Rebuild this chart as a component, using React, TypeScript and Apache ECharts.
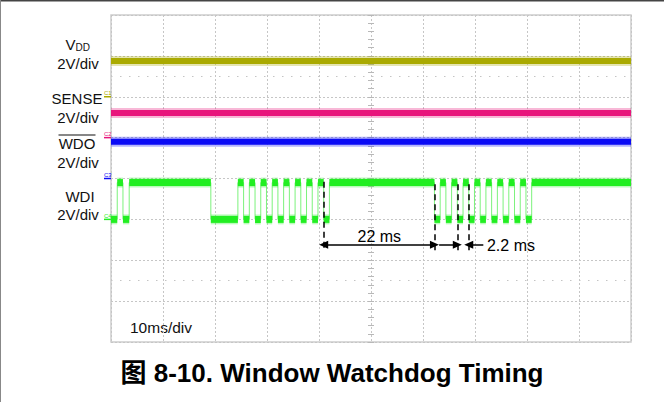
import React, { useEffect, useRef } from "react";
import * as echarts from "echarts";

// ---- data ----
const TIME_MIN_MS = 0;
const TIME_MAX_MS = 100; // 10 ms/div x 10 div
const TIME_DIV_MS = 10;
const VOLTS_PER_DIV = 2;
const DIV_COUNT = 8;

const CHANNEL_NAMES = ["C1", "C2", "C3", "C4"];
const CHANNEL_OFFSET_DIV = [6, 5, 4, 3]; // ground markers
const CHANNEL_COLORS = ["#AAAA00", "#E8157C", "#0A0AF5", "#22EE22"];

const VDD_V = 1.75;
const SENSE_V = 1.2;
const WDO_V = 1.8;
const WDI_HIGH_V = 1.8;
const WDI_LOW_V = 0;

// WDI starts low at t=0 and toggles at each of these times (ms)
const WDI_EDGES_MS = [
  1.2, 2.3, 3.5, 19.2,
  24.4, 25.5, 26.6, 27.7, 28.8, 29.9, 31.0, 32.1, 33.2, 34.3, 35.4, 36.5, 37.6, 38.7, 39.8, 40.9, 42.0,
  62.2, 63.3, 64.4, 65.5, 66.6, 67.7, 68.8, 69.9, 71.0, 72.1, 73.2, 74.3, 75.4, 76.5, 77.6, 78.7, 79.8, 80.9,
];

const MARKER_TIMES_MS = [40.9, 62.2, 66.6, 68.8];
const LABEL_22 = "22 ms";
const LABEL_2_2 = "2.2 ms";
const LABEL_22_POS = [51.6, 2.57];
const LABEL_2_2_POS = [72.3, 2.37];

const GRID = { left: 111, top: 15, width: 520, height: 327 };
const FONT = "'Liberation Sans', Arial, Helvetica, sans-serif";

const toDiv = (ch: number, v: number) => CHANNEL_OFFSET_DIV[ch] + v / VOLTS_PER_DIV;
const divToY = (d: number) => GRID.top + ((DIV_COUNT - d) * GRID.height) / DIV_COUNT;

export default function App() {
  const ref = useRef<HTMLDivElement>(null);

  useEffect(() => {
    if (!ref.current) return;
    const chart = echarts.init(ref.current, null, { renderer: "svg" });

    const hi = toDiv(3, WDI_HIGH_V);
    const lo = toDiv(3, WDI_LOW_V);

    // WDI edges (thin transitions) and levels (thick bands)
    const wdiLine: number[][] = [];
    const wdiSegs: number[][] = [];
    let level = lo;
    let t0 = TIME_MIN_MS;
    wdiLine.push([t0, level]);
    for (const t of WDI_EDGES_MS) {
      wdiSegs.push([t0, t, level]);
      const next = level === lo ? hi : lo;
      wdiLine.push([t, level]);
      wdiLine.push([t, next]);
      level = next;
      t0 = t;
    }
    wdiSegs.push([t0, TIME_MAX_MS, level]);
    wdiLine.push([TIME_MAX_MS, level]);

    const flat = (ch: number, v: number) => [
      [TIME_MIN_MS, toDiv(ch, v)],
      [TIME_MAX_MS, toDiv(ch, v)],
    ];

    const traceSeries = (ch: number, v: number) => [
      {
        type: "line",
        data: flat(ch, v),
        symbol: "none",
        silent: true,
        lineStyle: { color: CHANNEL_COLORS[ch], width: 10, opacity: 0.3 },
        z: 3,
      },
      {
        type: "line",
        data: flat(ch, v),
        symbol: "none",
        silent: true,
        lineStyle: { color: CHANNEL_COLORS[ch], width: 6 },
        z: 4,
      },
    ];

    const arrowY = 2.38;
    const dashTop = 3.86;
    const dashBot = 2.22;
    const dashStyle = { color: "#000", width: 1.5, type: [6, 4] as any };
    const arrowStyle = { color: "#000", width: 1.5, type: "solid" as any };

    const markLineData: any[] = [
      ...MARKER_TIMES_MS.map((t, i) => [
        { coord: [t, i === 0 ? 3.92 : dashTop], symbol: "none", lineStyle: dashStyle },
        { coord: [t, dashBot], symbol: "none" },
      ]),
      [
        { coord: [MARKER_TIMES_MS[0], arrowY], symbol: "triangle", lineStyle: arrowStyle },
        { coord: [MARKER_TIMES_MS[1], arrowY], symbol: "triangle" },
      ],
      [
        { coord: [63.1, arrowY], symbol: "none", lineStyle: arrowStyle },
        { coord: [MARKER_TIMES_MS[2], arrowY], symbol: "triangle" },
      ],
      [
        { coord: [71.6, arrowY], symbol: "none", lineStyle: arrowStyle },
        { coord: [MARKER_TIMES_MS[3], arrowY], symbol: "triangle" },
      ],
      [
        { coord: [TIME_MIN_MS, 6.5], symbol: "none", lineStyle: { color: "#c4c4c4", width: 1, type: [1.5, 7.5] } },
        { coord: [TIME_MAX_MS, 6.5], symbol: "none" },
      ],
      [
        { coord: [TIME_MIN_MS, 1.5], symbol: "none", lineStyle: { color: "#c4c4c4", width: 1, type: [1.5, 7.5] } },
        { coord: [TIME_MAX_MS, 1.5], symbol: "none" },
      ],
    ];

    const tx = (t: number) => GRID.left + ((t - TIME_MIN_MS) / (TIME_MAX_MS - TIME_MIN_MS)) * GRID.width;

    const graphic: any[] = [
      // outer frame
      { type: "line", shape: { x1: 0, y1: 0.75, x2: 664, y2: 0.75 }, style: { stroke: "#444", lineWidth: 1.5 } },
      { type: "line", shape: { x1: 0.5, y1: 0, x2: 0.5, y2: 402 }, style: { stroke: "#888", lineWidth: 1 } },
      // channel labels
      { type: "text", x: 65.5, y: 44, style: { text: "V", font: `15px ${FONT}`, fill: "#111", align: "left", verticalAlign: "middle" } },
      { type: "text", x: 75.5, y: 47.5, style: { text: "DD", font: `10px ${FONT}`, fill: "#111", align: "left", verticalAlign: "middle" } },
      { type: "text", x: 78, y: 63, style: { text: "2V/div", font: `15px ${FONT}`, fill: "#111", align: "center", verticalAlign: "middle" } },
      { type: "text", x: 77, y: 98, style: { text: "SENSE", font: `15px ${FONT}`, fill: "#111", align: "center", verticalAlign: "middle" } },
      { type: "text", x: 78, y: 117, style: { text: "2V/div", font: `15px ${FONT}`, fill: "#111", align: "center", verticalAlign: "middle" } },
      { type: "text", x: 77, y: 143.5, style: { text: "WDO", font: `15px ${FONT}`, fill: "#111", align: "center", verticalAlign: "middle" } },
      { type: "line", shape: { x1: 58.5, y1: 135, x2: 95.5, y2: 135 }, style: { stroke: "#111", lineWidth: 1.2 } },
      { type: "text", x: 78, y: 162.5, style: { text: "2V/div", font: `15px ${FONT}`, fill: "#111", align: "center", verticalAlign: "middle" } },
      { type: "text", x: 80, y: 196, style: { text: "WDI", font: `15px ${FONT}`, fill: "#111", align: "center", verticalAlign: "middle" } },
      { type: "text", x: 78, y: 214, style: { text: "2V/div", font: `15px ${FONT}`, fill: "#111", align: "center", verticalAlign: "middle" } },
      // annotation texts
      { type: "text", x: tx(LABEL_22_POS[0]), y: divToY(LABEL_22_POS[1]), z: 10, style: { text: LABEL_22, font: `16px ${FONT}`, fill: "#000", align: "center", verticalAlign: "middle" } },
      { type: "text", x: tx(LABEL_2_2_POS[0]), y: divToY(LABEL_2_2_POS[1]), z: 10, style: { text: LABEL_2_2, font: `16px ${FONT}`, fill: "#000", align: "left", verticalAlign: "middle" } },
      // time base
      { type: "text", x: 130, y: 327.5, style: { text: "10ms/div", font: `15.5px ${FONT}`, fill: "#111", align: "left", verticalAlign: "middle" } },
      // caption
      { type: "text", x: 332, y: 373, style: { text: "图 8-10. Window Watchdog Timing", font: `bold 26px ${FONT}, 'Noto Sans CJK SC'`, fill: "#000", align: "center", verticalAlign: "middle" } },
    ];

    CHANNEL_NAMES.forEach((name, i) => {
      const y = divToY(CHANNEL_OFFSET_DIV[i]);
      graphic.push({ type: "line", shape: { x1: 104, y1: y, x2: 111, y2: y }, style: { stroke: CHANNEL_COLORS[i], lineWidth: 1.5 } });
      graphic.push({ type: "text", x: 104, y: y - 3.5, style: { text: name, font: `6px ${FONT}`, fill: CHANNEL_COLORS[i], align: "left", verticalAlign: "middle" } });
    });

    const tickAxis = (inside: boolean) => ({
      type: "value",
      min: 0,
      max: DIV_COUNT,
      interval: 1,
      position: "left",
      offset: -GRID.width / 2,
      axisLine: { show: false },
      axisLabel: { show: false },
      splitLine: { show: false },
      axisTick: { show: true, inside, length: 3, lineStyle: { color: "#b8b8b8" } },
      minorTick: { show: true, splitNumber: 5, length: 3, lineStyle: { color: "#b8b8b8" } },
    });

    chart.setOption({
      animation: false,
      backgroundColor: "#fff",
      grid: { ...GRID, show: true, borderColor: "#cdcdcd", borderWidth: 1.5, backgroundColor: "transparent" },
      xAxis: {
        type: "value",
        min: TIME_MIN_MS,
        max: TIME_MAX_MS,
        interval: TIME_DIV_MS,
        axisLine: { show: false },
        axisTick: { show: false },
        axisLabel: { show: false },
        splitLine: { show: true, lineStyle: { color: "#c6c6c6", width: 1, type: [2, 2] } },
      },
      yAxis: [
        {
          type: "value",
          min: 0,
          max: DIV_COUNT,
          interval: 1,
          axisLine: { show: false },
          axisTick: { show: false },
          axisLabel: { show: false },
          splitLine: { show: true, lineStyle: { color: "#c6c6c6", width: 1, type: [2, 2] } },
        },
        tickAxis(true),
        tickAxis(false),
      ],
      graphic,
      series: [
        ...traceSeries(0, VDD_V),
        ...traceSeries(1, SENSE_V),
        ...traceSeries(2, WDO_V),
        {
          type: "line",
          data: wdiLine,
          symbol: "none",
          silent: true,
          lineStyle: { color: "#7CF27C", width: 1 },
          z: 3,
          markLine: {
            silent: true,
            symbol: ["none", "none"],
            symbolSize: [8, 9],
            label: { show: false },
            lineStyle: { color: "#000", width: 1.5, type: "solid" },
            data: markLineData,
          },
        },
        {
          type: "custom",
          silent: true,
          data: wdiSegs,
          encode: { x: [0, 1], y: 2 },
          z: 4,
          renderItem: (params: any, api: any) => {
            const a = api.coord([api.value(0), api.value(2)]);
            const b = api.coord([api.value(1), api.value(2)]);
            return {
              type: "group",
              children: [
                { type: "rect", shape: { x: a[0], y: a[1] - 5, width: b[0] - a[0], height: 10 }, style: { fill: CHANNEL_COLORS[3], opacity: 0.3 } },
                { type: "rect", shape: { x: a[0], y: a[1] - 3.5, width: b[0] - a[0], height: 7 }, style: { fill: CHANNEL_COLORS[3] } },
              ],
            };
          },
        },
      ],
    });

    return () => chart.dispose();
  }, []);

  return (
    <div
      ref={ref}
      style={{ position: "absolute", left: 0, top: 0, width: 664, height: 402, background: "#fff" }}
    />
  );
}
